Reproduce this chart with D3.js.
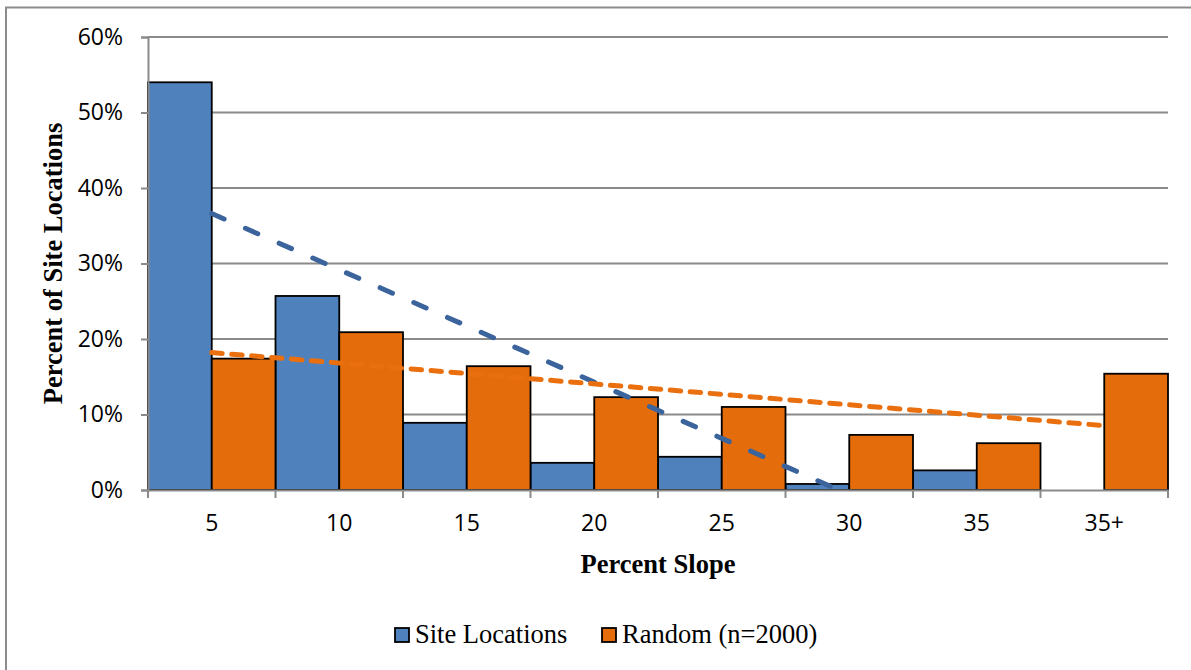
<!DOCTYPE html>
<html>
<head>
<meta charset="utf-8">
<script src="https://cdn.jsdelivr.net/npm/d3@7"></script>
<style>
body{margin:0;background:#fff}
</style>
</head>
<body>
<div class="chart"></div>
<script>
// data
var categories = ["5","10","15","20","25","30","35","35+"]
var siteValues = [54.0, 25.7, 8.9, 3.6, 4.4, 0.8, 2.6, null]
var randomValues = [17.4, 20.9, 16.4, 12.3, 11.0, 7.3, 6.2, 15.4]
var yTicks = [0,10,20,30,40,50,60]
var seriesNames = ["Site Locations","Random (n=2000)"]

var width = 1191, height = 670
var svg = d3.select(".chart").append("svg").attr("width",width).attr("height",height)

// outer frame
svg.append("rect").attr("x",6).attr("y",7.5).attr("width",1300).attr("height",800)
	.attr("fill","none").attr("stroke","#8c8c8c").attr("stroke-width",2)

var pLeft = 148, pRight = 1168, pTop = 37, pBottom = 490

//scales
var x = d3.scaleBand().domain(categories).range([pLeft,pRight]).padding(0)
var y = d3.scaleLinear().domain([0,60]).range([pBottom,pTop])

// gridlines
svg.append("g").selectAll("line").data(yTicks.slice(1)).enter().append("line")
	.attr("x1",pLeft).attr("x2",pRight)
	.attr("y1",function(d){return y(d)}).attr("y2",function(d){return y(d)})
	.attr("stroke","#8a8a8a").attr("stroke-width",2)

// bars
var bw = x.bandwidth()/2
var bars = svg.append("g")
bars.selectAll("rect.site").data(siteValues).enter().append("rect")
	.filter(function(d){return d !== null})
	.attr("class","site")
	.attr("x",function(d,i){return x(categories[i])})
	.attr("y",function(d){return y(d)})
	.attr("width",bw)
	.attr("height",function(d){return pBottom - y(d)})
	.attr("fill","#4f81bd").attr("stroke","#000").attr("stroke-width",1.8)
bars.selectAll("rect.rand").data(randomValues).enter().append("rect")
	.attr("class","rand")
	.attr("x",function(d,i){return x(categories[i]) + bw})
	.attr("y",function(d){return y(d)})
	.attr("width",bw)
	.attr("height",function(d){return pBottom - y(d)})
	.attr("fill","#e46c0a").attr("stroke","#000").attr("stroke-width",1.8)

// linear trendlines (least squares over the points present)
function trend(vals) {
	var pts = []
	vals.forEach(function(v,i){ if(v !== null) pts.push([i+1,v]) })
	var mx = d3.mean(pts,function(p){return p[0]}), my = d3.mean(pts,function(p){return p[1]})
	var sxy = d3.sum(pts,function(p){return (p[0]-mx)*(p[1]-my)})
	var sxx = d3.sum(pts,function(p){return (p[0]-mx)*(p[0]-mx)})
	var b = sxy/sxx, a = my - b*mx
	return {a:a, b:b, n:pts.length}
}
function catX(k) { return pLeft + (k-0.5)*x.bandwidth() }

svg.append("clipPath").attr("id","plotclip").append("rect")
	.attr("x",pLeft).attr("y",pTop).attr("width",pRight-pLeft).attr("height",pBottom-pTop)

var ts = trend(siteValues)
svg.append("line").attr("clip-path","url(#plotclip)")
	.attr("x1",catX(1)).attr("y1",y(ts.a+ts.b*1))
	.attr("x2",catX(ts.n)).attr("y2",y(ts.a+ts.b*ts.n))
	.attr("stroke","#3b649c").attr("stroke-width",5)
	.attr("stroke-dasharray","13.5,23.3").attr("stroke-linecap","round")

var tr = trend(randomValues)
svg.append("line").attr("clip-path","url(#plotclip)")
	.attr("x1",catX(1)).attr("y1",y(tr.a+tr.b*1))
	.attr("x2",catX(tr.n)).attr("y2",y(tr.a+tr.b*tr.n))
	.attr("stroke","#ea700f").attr("stroke-width",5)
	.attr("stroke-dasharray","10.5,9.5").attr("stroke-linecap","round")

// y axis
var yAxis = svg.append("g").attr("transform","translate("+pLeft+",0)")
	.call(d3.axisLeft(y).tickValues(yTicks).tickSize(7).tickPadding(18).tickFormat(function(d){return d+"%"}))
yAxis.select(".domain").attr("stroke","#8a8a8a").attr("stroke-width",2)
yAxis.selectAll(".tick line").attr("stroke","#8a8a8a").attr("stroke-width",2)
yAxis.selectAll("text").style("font-family","'Open Sans', sans-serif").style("font-size","23px").attr("fill","#000")

// x axis
var xAxis = svg.append("g").attr("transform","translate(0,"+pBottom+")")
	.call(d3.axisBottom(x).tickSize(0).tickPadding(25))
xAxis.select(".domain").attr("stroke","#8a8a8a").attr("stroke-width",2)
xAxis.selectAll("text").style("font-family","'Open Sans', sans-serif").style("font-size","23px").attr("fill","#000")
// boundary ticks
xAxis.append("g").selectAll("line").data(d3.range(categories.length+1)).enter().append("line")
	.attr("x1",function(d){return pLeft + d*x.bandwidth()}).attr("x2",function(d){return pLeft + d*x.bandwidth()})
	.attr("y1",0).attr("y2",8).attr("stroke","#8a8a8a").attr("stroke-width",2)

// axis titles
svg.append("text").attr("x",(pLeft+pRight)/2).attr("y",573).attr("text-anchor","middle")
	.style("font-family","'Liberation Serif', serif").style("font-weight","bold").style("font-size","26.5px")
	.text("Percent Slope")
svg.append("text").attr("transform","translate(62,263.5) rotate(-90)").attr("text-anchor","middle")
	.style("font-family","'Liberation Serif', serif").style("font-weight","bold").style("font-size","26.5px")
	.text("Percent of Site Locations")

// legend
var legendX = [395, 602]
var legendColors = ["#4f81bd","#e46c0a"]
var legend = svg.append("g")
seriesNames.forEach(function(name,i){
	legend.append("rect").attr("x",legendX[i]).attr("y",628).attr("width",14).attr("height",14)
		.attr("fill",legendColors[i]).attr("stroke","#000").attr("stroke-width",1.8)
	legend.append("text").attr("x",legendX[i]+20).attr("y",643)
		.style("font-family","'Liberation Serif', serif").style("font-size","26.5px")
		.text(name)
})
</script>
</body>
</html>
